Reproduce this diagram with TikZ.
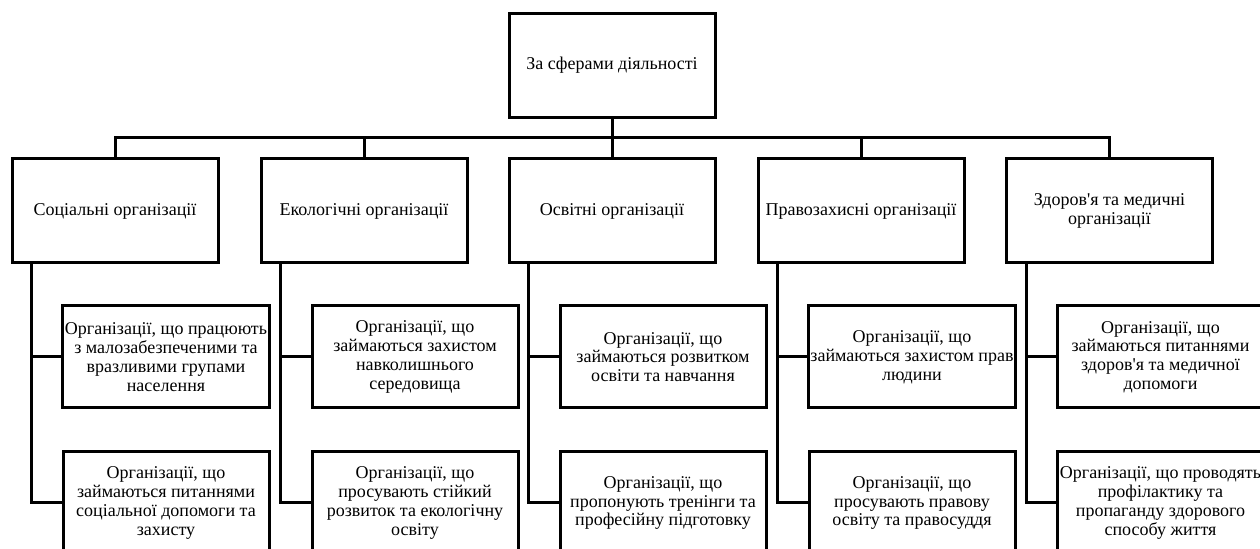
\documentclass[tikz,border=0pt]{standalone}
\usepackage{fontspec}
\setmainfont{Liberation Serif}
\usepackage{tikz}
\usetikzlibrary{shapes.geometric, arrows}
\tikzstyle{orgbox} = [draw,line width=1.5pt,minimum width=103pt,minimum height=52pt,align=center,inner sep=1pt,font=\fontsize{9}{9.4}\selectfont]
\tikzstyle{subbox} = [orgbox,minimum height=51pt]
\tikzstyle{link} = [line width=1.5pt]
\newcommand{\apos}{\textquotesingle}

\begin{document}
\begin{tikzpicture}[x=0.5pt,y=-0.5pt]
            \clip (0,0) rectangle (1260,549);
            % top level
            \node[orgbox] (sfery) at (612,65.5) {За сферами діяльності};
            \coordinate (bar) at (612,138);
            % spheres
            \node[orgbox] (soc) at (115,211) {Соціальні організації};
            \node[orgbox] (eko) at (364,211) {Екологічні організації};
            \node[orgbox] (osv) at (612,211) {Освітні організації};
            \node[orgbox] (prav) at (861,211) {Правозахисні організації};
            \node[orgbox] (zdor) at (1109.5,211) {Здоров\apos{}я та медичні\\організації};
            % first row of kinds
            \node[subbox] (socA) at (166,357) {Організації, що працюють\\з малозабезпеченими та\\вразливими групами\\населення};
            \node[subbox] (ekoA) at (415,357) {Організації, що\\займаються захистом\\навколишнього\\середовища};
            \node[subbox] (osvA) at (663,357) {Організації, що\\займаються розвитком\\освіти та навчання};
            \node[subbox] (pravA) at (912,357) {Організації, що\\займаються захистом прав\\людини};
            \node[subbox] (zdorA) at (1160.5,357) {Організації, що\\займаються питаннями\\здоров\apos{}я та медичної\\допомоги};
            % second row of kinds
            \node[subbox] (socB) at (166,503) {Організації, що\\займаються питаннями\\соціальної допомоги та\\захисту};
            \node[subbox] (ekoB) at (415,503) {Організації, що\\просувають стійкий\\розвиток та екологічну\\освіту};
            \node[subbox] (osvB) at (663,503) {Організації, що\\пропонують тренінги та\\професійну підготовку};
            \node[subbox] (pravB) at (912,503) {Організації, що\\просувають правову\\освіту та правосуддя};
            \node[subbox] (zdorB) at (1160.5,503) {Організації, що проводять\\профілактику та\\пропаганду здорового\\способу життя};
            % connectors
            \draw [link] (sfery.south) -- (bar);
            \foreach \c in {soc,eko,osv,prav,zdor} {
                \draw [link] (bar) -| (\c.north);
                \draw [link] ([xshift=10.5pt]\c.south west) |- (\c A.west);
                \draw [link] ([xshift=10.5pt]\c.south west) |- (\c B.west);
            }
        \end{tikzpicture}
\end{document}
